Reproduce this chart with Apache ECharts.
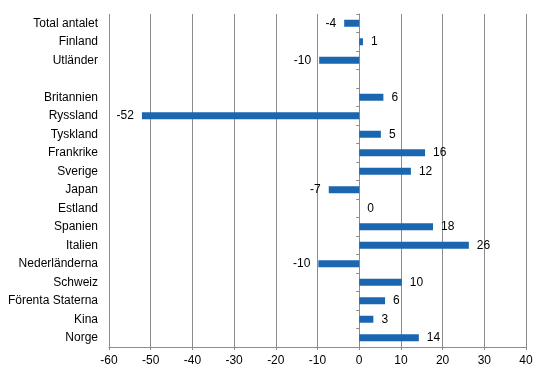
<!DOCTYPE html>
<html><head><meta charset="utf-8">
<script src="https://cdn.jsdelivr.net/npm/echarts@6/dist/echarts.min.js"></script>
<style>html,body{margin:0;padding:0;background:#fff}#c{width:546px;height:376px}</style>
</head><body><div id="c"></div>
<script>
const categories = ['Total antalet','Finland','Utländer','','Britannien','Ryssland','Tyskland','Frankrike','Sverige','Japan','Estland','Spanien','Italien','Nederländerna','Schweiz','Förenta Staterna','Kina','Norge'];
const values = [-3.6, 0.9, -9.6, null, 5.8, -52.1, 5.2, 15.8, 12.4, -7.3, 0, 17.7, 26.3, -9.8, 10.2, 6.2, 3.4, 14.3];
const xTicks = [-60, -50, -40, -30, -20, -10, 0, 10, 20, 30, 40];

const font = 'Liberation Sans, Arial, sans-serif';
const cats = categories.slice().reverse();
const vals = values.slice().reverse();
const seriesData = vals.map(v => v === null ? '-' : {
  value: v,
  label: { position: v < 0 ? 'left' : 'right' }
});

const chart = echarts.init(document.getElementById('c'), null, {renderer: 'canvas'});
chart.setOption({
  animation: false,
  grid: { left: 109, right: 20, top: 14, bottom: 29, containLabel: false },
  xAxis: {
    type: 'value', min: xTicks[0], max: xTicks[xTicks.length - 1], interval: 10,
    axisLine: { show: true, onZero: false, lineStyle: { color: '#8c8c8c', width: 1 } },
    axisTick: { show: true, length: 3, lineStyle: { color: '#8c8c8c' } },
    splitLine: { show: true, lineStyle: { color: '#8c8c8c', width: 1 } },
    axisLabel: { color: '#000', fontFamily: font, fontSize: 12, margin: 8 }
  },
  yAxis: [{
    type: 'category', data: cats, position: 'left',
    axisLine: { show: false, onZero: false },
    axisTick: { show: false },
    axisLabel: { color: '#000', fontFamily: font, fontSize: 12, margin: 11 }
  }, {
    type: 'category', data: cats, position: 'left',
    axisLine: { show: true, onZero: true, lineStyle: { color: '#8c8c8c', width: 1 } },
    axisTick: { show: true, length: 3, lineStyle: { color: '#8c8c8c' } },
    axisLabel: { show: false }
  }],
  series: [{
    type: 'bar', yAxisIndex: 0, data: seriesData, barWidth: 7,
    itemStyle: { color: '#1b66b0' },
    label: {
      show: true, distance: 8, color: '#000', fontFamily: font, fontSize: 12,
      formatter: p => String(Math.round(p.value))
    }
  }]
});
</script></body></html>
